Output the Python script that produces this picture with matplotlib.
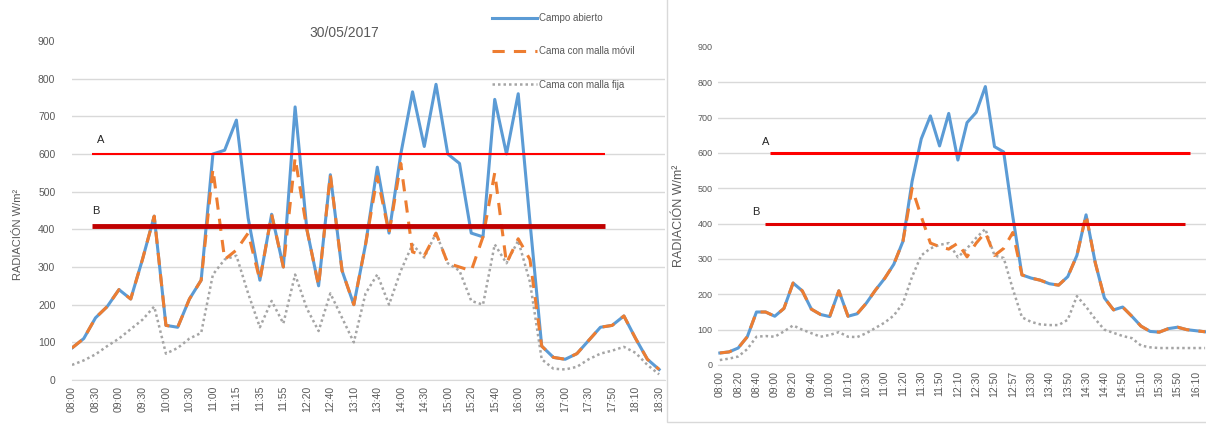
import matplotlib
matplotlib.use("Agg")
import matplotlib.pyplot as plt
from matplotlib.patches import Rectangle

plt.rcParams['font.family'] = ['Liberation Sans', 'DejaVu Sans']

# --- datos grafica izquierda (30/05/2017) ---
izq_etiquetas = ['08:00', '08:30', '09:00', '09:30', '10:00', '10:30', '11:00', '11:15',
                 '11:35', '11:55', '12:20', '12:40', '13:10', '13:40', '14:00', '14:30',
                 '15:00', '15:20', '15:40', '16:00', '16:30', '17:00', '17:30', '17:50',
                 '18:10', '18:30']
izq_campo = [85, 110, 165, 195, 240, 215, 320, 435, 145, 140, 215, 265, 600, 610, 690, 430,
             265, 440, 300, 725, 400, 250, 545, 290, 200, 360, 565, 390, 600, 765, 620, 785,
             600, 575, 390, 380, 745, 600, 760, 420, 90, 60, 55, 70, 105, 140, 145, 170,
             110, 55, 28]
izq_movil = [85, 110, 165, 195, 240, 215, 320, 435, 145, 140, 215, 265, 560, 320, 345, 390,
             265, 440, 300, 590, 400, 250, 545, 290, 200, 360, 540, 390, 575, 340, 330, 390,
             310, 300, 290, 380, 550, 310, 375, 320, 90, 60, 55, 70, 105, 140, 145, 170,
             110, 55, 28]
izq_fija = [40, 52, 68, 90, 110, 135, 160, 195, 70, 85, 110, 125, 280, 320, 330, 230,
            140, 210, 150, 280, 190, 130, 230, 165, 100, 230, 280, 200, 290, 360, 325, 390,
            310, 290, 210, 200, 360, 310, 370, 260, 55, 30, 28, 35, 55, 70, 78, 88,
            72, 40, 15]

# --- datos grafica derecha ---
der_etiquetas = ['08:00', '08:20', '08:40', '09:00', '09:20', '09:40', '10:00', '10:10',
                 '10:30', '11:00', '11:20', '11:30', '11:50', '12:10', '12:30', '12:50',
                 '12:57', '13:30', '13:40', '13:50', '14:30', '14:40', '14:50', '15:10',
                 '15:30', '15:50', '16:10']
der_campo = [34, 37, 48, 80, 150, 150, 138, 160, 232, 210, 158, 143, 137, 210, 138, 145,
             175, 212, 245, 285, 350, 520, 640, 705, 620, 712, 580, 686, 715, 788, 618, 603,
             420, 255, 246, 240, 230, 226, 250, 310, 425, 290, 190, 156, 164, 138, 110, 95,
             93, 103, 107, 100, 97, 94]
der_movil = [34, 37, 48, 80, 150, 150, 138, 160, 232, 210, 158, 143, 137, 210, 138, 145,
             175, 212, 245, 285, 350, 500, 420, 345, 335, 328, 345, 306, 345, 375, 310, 330,
             375, 255, 246, 240, 230, 226, 250, 310, 425, 290, 190, 156, 164, 138, 110, 95,
             93, 103, 107, 100, 97, 94]
der_fija = [14, 18, 24, 45, 80, 82, 80, 95, 112, 100, 90, 80, 85, 93, 80, 79,
            90, 105, 120, 140, 175, 250, 310, 330, 340, 345, 305, 330, 360, 385, 310, 303,
            215, 135, 122, 115, 113, 113, 128, 195, 165, 130, 100, 91, 82, 76, 55, 50,
            48, 48, 48, 48, 48, 48]

umbral_a = 600
umbral_b_izq = 410
umbral_b_der = 400

azul = '#5B9BD5'
naranja = '#ED7D31'
gris = '#A5A5A5'
texto = '#595959'

fig = plt.figure(figsize=(12.06, 4.25), dpi=100)
ax1 = fig.add_axes([72 / 1206, 45 / 425, 593 / 1206, 339 / 425])
ax2 = fig.add_axes([718 / 1206, 60 / 425, 488 / 1206, 318 / 425])
ax1.set_zorder(0)
ax2.set_zorder(1)

# fondo blanco del segundo grafico (tapa la leyenda del primero)
fig.add_artist(Rectangle((667 / 1206, 3 / 425), 0.5, 1.0, transform=fig.transFigure,
                         facecolor='white', edgecolor='#D9D9D9', lw=1, zorder=0.5))


def dibujar(ax, campo, movil, fija, etiquetas, b_val, xa, xb, pos_a, pos_b, fs):
    x = range(len(campo))
    ax.plot(x, campo, color=azul, lw=2.2, label='Campo abierto', zorder=4)
    ax.plot(x, movil, color=naranja, lw=2.2, ls=(0, (4, 3)), label='Cama con malla móvil', zorder=5)
    ax.plot(x, fija, color=gris, lw=1.8, ls=(0, (1, 1.2)), label='Cama con malla fija', zorder=3)
    ax.hlines(umbral_a, xa[0], xa[1], color='#FF0000', lw=xa[2], zorder=6)
    ax.hlines(b_val, xb[0], xb[1], color=xb[3], lw=xb[2], zorder=6)
    ax.text(pos_a[0], pos_a[1], 'A', fontsize=8, color='#262626')
    ax.text(pos_b[0], pos_b[1], 'B', fontsize=8, color='#262626')
    ax.set_ylim(0, 900)
    ax.set_yticks(range(0, 901, 100))
    ax.yaxis.grid(True, color='#D9D9D9', lw=1)
    ax.get_ygridlines()[-1].set_visible(False)
    ax.set_axisbelow(True)
    ax.set_xticks(range(0, 2 * len(etiquetas), 2))
    ax.set_xticklabels(etiquetas, rotation=90, fontsize=fs, color=texto)
    ax.tick_params(axis='both', length=0, colors=texto)
    for s in ['top', 'right', 'left']:
        ax.spines[s].set_visible(False)
    ax.spines['bottom'].set_color('#D9D9D9')
    ax.set_facecolor('none')


dibujar(ax1, izq_campo, izq_movil, izq_fija, izq_etiquetas, umbral_b_izq,
        (1.7, 45.4, 1.5), (1.7, 45.4, 3.5, '#C00000'), (2.1, 630), (1.7, 440), 7.5)
ax1.set_xlim(0, 50.5)
ax1.tick_params(axis='y', pad=12, labelsize=7.5)
ax1.tick_params(axis='x', pad=4)
ax1.set_ylabel('RADIACIÓN W/m²', fontsize=8, color=texto)
ax1.yaxis.set_label_coords(-0.083, 0.43)
ax1.set_title('30/05/2017', fontsize=10, color=texto, x=0.46, y=1.0, pad=3)
ax1.legend(loc='upper left', bbox_to_anchor=(492 / 1206, 1 - 13 / 425),
           bbox_transform=fig.transFigure, frameon=False, fontsize=7,
           handlelength=4.6, labelspacing=2.4, handletextpad=0.2,
           borderpad=0, borderaxespad=0, labelcolor=texto)

dibujar(ax2, der_campo, der_movil, der_fija, der_etiquetas, umbral_b_der,
        (5.5, 51.3, 2.2), (4.9, 50.8, 2.2, '#E00000'), (4.6, 622), (3.5, 425), 7.5)
ax2.set_xlim(-0.2, 53.1)
ax2.tick_params(axis='y', pad=4, labelsize=6.5)
ax2.tick_params(axis='x', pad=4)
ax2.set_ylabel('RADIACIÓN W/m²', fontsize=9, color=texto)
ax2.yaxis.set_label_coords(-0.068, 0.47)

fig.savefig('out.png', dpi=100)
